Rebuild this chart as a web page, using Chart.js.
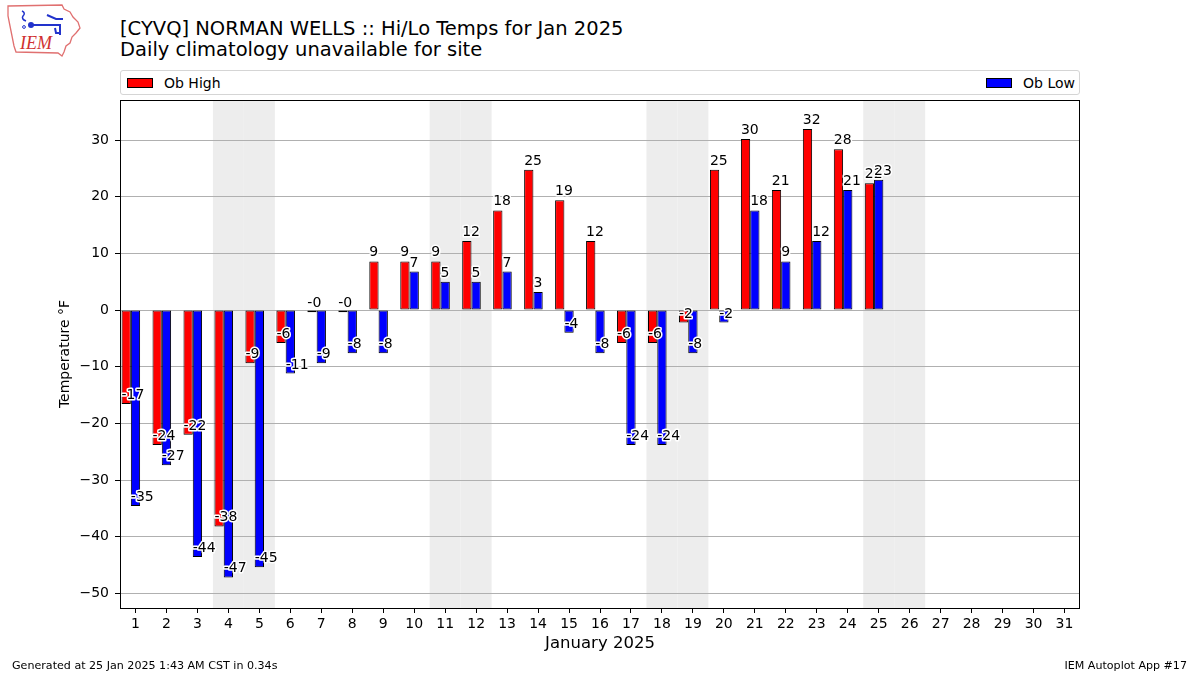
<!DOCTYPE html>
<html>
<head>
<meta charset="utf-8">
<script src="https://cdn.jsdelivr.net/npm/chart.js@4.4.1/dist/chart.umd.min.js"></script>
<style>
  html, body { margin: 0; padding: 0; background: #fff; }
  body { width: 1200px; height: 675px; position: relative; overflow: hidden; font-family: "DejaVu Sans", sans-serif; color: #000; }
  #chart { position: absolute; left: 0; top: 0; }
  .title { position: absolute; left: 120px; font-size: 19.5px; line-height: 21px; white-space: nowrap; }
  #legend { position: absolute; left: 120px; top: 70px; width: 960px; height: 25px; box-sizing: border-box;
            border: 1px solid #d5d5d5; border-radius: 3px; display: flex; justify-content: space-between;
            align-items: center; padding: 0 4px 0 6px; background: #fff; }
  .item { display: flex; align-items: center; font-size: 14px; }
  .swatch { width: 26px; height: 10px; box-sizing: border-box; border: 1px solid #000; margin-right: 11px; }
  .foot { position: absolute; top: 659px; font-size: 11.1px; line-height: 14px; white-space: nowrap; }
  #logo { position: absolute; left: 0; top: 0; }
</style>
</head>
<body>
<svg id="logo" width="90" height="65" viewBox="0 0 90 65">
  <path d="M8,6 L62,5 L64,9 L70,12 L73,17 L78,22 L80,28 L76,33 L72,37 L70,43 L66,46 L64,52 L62,56 L58,53 L16,52 L14,46 L12,36 L10,26 L8,16 Z"
        fill="none" stroke="#e07070" stroke-width="1.3"/>
  <path d="M22,11 Q26,13 23,16 Q21,19 26,21" fill="none" stroke="#2233cc" stroke-width="1.5"/>
  <path d="M31,25 L61,25 M47,15 L56,19 L63,19 M60,25 L60,35 M55,28 L56,33 L59,33" fill="none" stroke="#2233cc" stroke-width="2"/>
  <circle cx="31" cy="25" r="3" fill="#2233cc"/>
  <circle cx="24" cy="27" r="1.4" fill="none" stroke="#2233cc" stroke-width="1"/>
  <text x="20" y="49" font-family="Liberation Serif, serif" font-style="italic" font-size="18" fill="#d03030">IEM</text>
</svg>
<div class="title" style="top:18px">[CYVQ] NORMAN WELLS :: Hi/Lo Temps for Jan 2025</div>
<div class="title" style="top:39px">Daily climatology unavailable for site</div>
<div id="legend"></div>
<canvas id="chart" width="1200" height="675"></canvas>
<div class="foot" style="left:12px">Generated at 25 Jan 2025 1:43 AM CST in 0.34s</div>
<div class="foot" style="right:13px">IEM Autoplot App #17</div>
<script>
const dayLabels = ["1", "2", "3", "4", "5", "6", "7", "8", "9", "10", "11", "12", "13", "14", "15", "16",
  "17", "18", "19", "20", "21", "22", "23", "24", "25", "26", "27", "28", "29", "30", "31"];

// daily observed high / low, deg F (no obs after the 25th)
const obHigh = [-16.6, -23.8, -22.0, -38.2, -9.4, -5.8, -0.4, -0.4, 8.6, 8.6, 8.6, 12.2, 17.6, 24.8, 19.4, 12.2,
  -5.8, -5.8, -2.2, 24.8, 30.2, 21.2, 32.0, 28.4, 22.4, null, null, null, null, null, null];
const obLow = [-34.6, -27.4, -43.6, -47.2, -45.4, -11.2, -9.4, -7.6, -7.6, 6.8, 5.0, 5.0, 6.8, 3.2, -4.0, -7.6,
  -23.8, -23.8, -7.6, -2.2, 17.6, 8.6, 12.2, 21.2, 23.0, null, null, null, null, null, null];

const weekendDays = [4, 5, 11, 12, 18, 19, 25, 26];
const yTicks = [-50, -40, -30, -20, -10, 0, 10, 20, 30];

Chart.defaults.font.family = '"DejaVu Sans", sans-serif';
Chart.defaults.color = "#000";

const weekendShade = {
  id: "weekendShade",
  beforeDraw(chart) {
    const { ctx, chartArea: a, scales: { x } } = chart;
    const half = (x.getPixelForValue(1) - x.getPixelForValue(0)) / 2;
    ctx.save();
    ctx.fillStyle = "#ededed";
    weekendDays.forEach(d => {
      const c = x.getPixelForValue(d - 1);
      ctx.fillRect(c - half, a.top, half * 2, a.bottom - a.top);
    });
    ctx.restore();
  }
};

const barLabels = {
  id: "barLabels",
  afterDatasetsDraw(chart) {
    const ctx = chart.ctx;
    ctx.save();
    ctx.font = '14px "DejaVu Sans"';
    ctx.textAlign = "left";
    ctx.textBaseline = "alphabetic";
    ctx.lineJoin = "round";
    chart.data.datasets.forEach((ds, i) => {
      if (!ds.label) return;
      chart.getDatasetMeta(i).data.forEach((bar, j) => {
        const v = ds.data[j];
        if (v == null) return;
        const r = Math.round(v);
        const txt = (v < 0 && r === 0) ? "-0" : String(r);
        const x = bar.x - bar.width / 2;
        const y = bar.y - 5;
        ctx.strokeStyle = "#fff";
        ctx.lineWidth = 3;
        ctx.strokeText(txt, x, y);
        ctx.fillStyle = "#000";
        ctx.fillText(txt, x, y);
      });
    });
    ctx.restore();
  }
};

const frame = {
  id: "frame",
  afterDraw(chart) {
    const { ctx, chartArea: a } = chart;
    ctx.save();
    ctx.strokeStyle = "#000";
    ctx.lineWidth = 1;
    ctx.strokeRect(Math.round(a.left) + 0.5, Math.round(a.top) + 0.5,
      Math.round(a.right - a.left) - 1, Math.round(a.bottom - a.top));
    ctx.restore();
  }
};

const chart = new Chart(document.getElementById("chart"), {
  type: "bar",
  data: {
    labels: dayLabels,
    datasets: [
      { label: "Ob High", data: obHigh, backgroundColor: "#ff0000", borderColor: "#000", borderWidth: 1, borderSkipped: false },
      { label: "Ob Low", data: obLow, backgroundColor: "#0000ff", borderColor: "#000", borderWidth: 1, borderSkipped: false },
      // empty slot: matplotlib puts the high at day-0.3 and the low at the day itself
      { label: "", data: [] }
    ]
  },
  options: {
    responsive: false,
    animation: false,
    layout: { padding: { left: 0, right: 120, top: 100, bottom: 19 } },
    datasets: { bar: { categoryPercentage: 0.9, barPercentage: 1.0 } },
    plugins: { legend: { display: false }, title: { display: false }, tooltip: { enabled: false } },
    scales: {
      x: {
        offset: true,
        grid: { drawOnChartArea: false, offset: false, tickLength: 5, tickColor: "#000" },
        border: { display: false },
        ticks: { font: { size: 14 }, padding: 3, maxRotation: 0, autoSkip: false },
        title: { display: true, text: "January 2025", font: { size: 16.5 }, padding: { top: 0, bottom: 2 } },
        afterFit(s) { s.height = 48; }
      },
      y: {
        min: -52.6,
        max: 37.1,
        afterBuildTicks(s) { s.ticks = yTicks.map(v => ({ value: v })); },
        grid: { color: "#b0b0b0", tickColor: "#000", tickLength: 5, lineWidth: 1 },
        border: { display: false },
        ticks: { font: { size: 14 }, padding: 6, callback: v => v < 0 ? "\u2212" + Math.abs(v) : String(v) },
        title: { display: true, text: "Temperature °F", font: { size: 14 }, padding: { top: 57 } },
        afterFit(s) { s.width = 120; }
      }
    }
  },
  plugins: [weekendShade, barLabels, frame]
});

// legend spread across the top, like matplotlib's mode="expand"
const legend = document.getElementById("legend");
chart.data.datasets.filter(ds => ds.label).forEach(ds => {
  const item = document.createElement("div");
  item.className = "item";
  const sw = document.createElement("span");
  sw.className = "swatch";
  sw.style.background = ds.backgroundColor;
  const txt = document.createElement("span");
  txt.textContent = ds.label;
  item.append(sw, txt);
  legend.append(item);
});
</script>
</body>
</html>
